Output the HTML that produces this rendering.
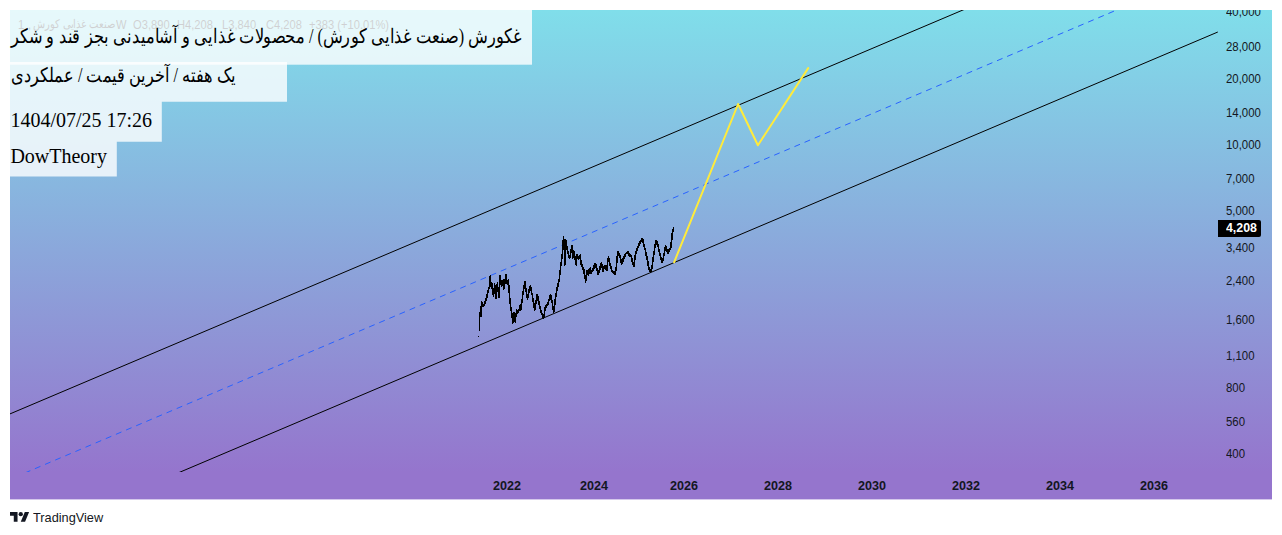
<!DOCTYPE html>
<html lang="en">
<head>
<meta charset="utf-8">
<title>TradingView Chart</title>
<style>
  html, body { margin: 0; padding: 0; background: #ffffff; }
  body { width: 1282px; height: 535px; position: relative; overflow: hidden;
         font-family: "Liberation Sans", sans-serif; color: #000; }
  #bg, #boxes { position: absolute; left: 0; top: 0; width: 1282px; height: 535px; }
  #clip { position: absolute; left: 10px; top: 10px; width: 1262px; height: 489px; overflow: hidden; }
  #clip > #inner { position: absolute; left: -10px; top: -10px; width: 1282px; height: 535px; }
  #lines { position: absolute; left: 0; top: 0; width: 1282px; height: 535px; }
  .legend { position: absolute; left: 0; top: 0; width: 1282px; height: 40px; font-size: 12px; line-height: 14px;
            color: #131722; white-space: pre; direction: ltr; }
  .legend span { position: absolute; top: 17.5px; transform-origin: 0 50%; transform: scaleX(0.93); }
  svg.fa { position: absolute; left: 0; top: 0; width: 1282px; height: 535px; overflow: visible; pointer-events: none; }
  .fap { fill: #000; stroke: #000; stroke-width: 0.4px; }
  .lbl { position: absolute; font-family: "Liberation Serif", serif; font-size: 20px; line-height: 23px;
         white-space: nowrap; color: #000; }
  .ax { position: absolute; left: 1226.2px; font-size: 12px; line-height: 14px; height: 14px;
        color: #131722; white-space: nowrap; transform-origin: 0 50%; transform: scaleX(0.95); }
  .tx { position: absolute; top: 479px; width: 60px; margin-left: -30px; text-align: center;
        font-size: 12px; line-height: 14px; font-weight: bold; color: #131722;
        transform: scaleX(1.05); }
  #last { position: absolute; left: 1218px; top: 220.3px; width: 43.2px; height: 16.6px; border-radius: 0 2px 2px 0;
          background: #000; color: #fff; font-size: 12px; font-weight: bold; line-height: 16.5px; }
  #last span { position: absolute; left: 7.7px; top: 0; transform-origin: 0 50%; transform: scaleX(1.03); }
  #tv { position: absolute; left: 10px; top: 509px; height: 16px; color: #131722; }
  #tv svg { position: absolute; left: 0; top: 3.2px; }
  #tv span { position: absolute; left: 23.3px; top: 0.8px; font-size: 13px; line-height: 16px; transform-origin: 0 50%; transform: scaleX(0.98); }
</style>
</head>
<body>
<svg id="bg" width="1282" height="535" viewBox="0 0 1282 535">
  <defs><linearGradient id="gr" gradientUnits="userSpaceOnUse" x1="0" y1="10" x2="0" y2="472"><stop offset="0" stop-color="#80deea"/><stop offset="1" stop-color="#9575cd"/></linearGradient></defs>
  <rect x="10" y="10" width="1262" height="489.4" fill="url(#gr)"/>
</svg>

<div class="legend" aria-label="صنعت غذایی کورش, 1W">
  <span style="left:18px">1</span><span style="left:28.2px">,</span>
  <svg class="fa" width="1282" height="535" viewBox="0 0 1282 535" role="img" aria-label="صنعت غذایی کورش"><text x="115.3" y="27.9" text-anchor="end" textLength="82.8" lengthAdjust="spacingAndGlyphs" font-family="&quot;Liberation Sans&quot;, sans-serif" font-size="12" fill="#131722">صنعت غذایی کورش</text></svg>
  <span style="left:115.5px">W</span>
  <span style="left:132.5px">O3,890</span>
  <span style="left:177px">H4,208</span>
  <span style="left:222px">L3,840</span>
  <span style="left:265.5px">C4,208</span>
  <span style="left:309px">+383 (+10.01%)</span>
</div>

<svg id="boxes" width="1282" height="535" viewBox="0 0 1282 535">
  <g fill="#ffffff" fill-opacity="0.8">
    <rect x="10" y="10" width="522" height="54.7"/>
    <path d="M10 61.9H287V101.7H161.8V141.8H116.8V176.6H10Z"/>
  </g>
  <g role="img" aria-label="غکورش (صنعت غذایی کورش) / محصولات غذایی و آشامیدنی بجز قند و شکر"><text x="521" y="43" text-anchor="end" textLength="510.3" lengthAdjust="spacingAndGlyphs" font-family="&quot;Liberation Serif&quot;, serif" font-size="20" fill="#000" fill-opacity="1">غکورش (صنعت غذایی کورش) / محصولات غذایی و آشامیدنی بجز قند و شکر</text></g>
  <g role="img" aria-label="یک هفته / آخرین قیمت / عملکردی"><text x="236.2" y="82.3" text-anchor="end" textLength="225.3" lengthAdjust="spacingAndGlyphs" font-family="&quot;Liberation Serif&quot;, serif" font-size="20" fill="#000" fill-opacity="1">یک هفته / آخرین قیمت / عملکردی</text></g>
</svg>
<div class="lbl" style="left:10.4px; top:109.3px;">1404/07/25 17:26</div>
<div class="lbl" style="left:10.4px; top:145.3px;">DowTheory</div>

<svg id="lines" viewBox="0 0 1282 535">
  <defs><clipPath id="cc"><rect x="10" y="10" width="1207.8" height="462"/></clipPath></defs>
  <g clip-path="url(#cc)" fill="none">
    <line x1="-20.0" y1="426.62" x2="992.2" y2="-2.42" stroke="#000" stroke-width="1"/>
    <line x1="151.0" y1="484.42" x2="1247.6" y2="19.38" stroke="#000" stroke-width="1"/>
    <line x1="-3.8" y1="485.12" x2="1144.8" y2="-1.92" stroke="#2962ff" stroke-width="1" stroke-dasharray="6 5" stroke-dashoffset="1.96"/>
    <polyline points="674.1,262.3 738.1,104 757.9,145.3 808.2,68.1" stroke="#ffeb3b" stroke-width="2" stroke-linejoin="round" stroke-linecap="round"/>
    <path id="price" stroke="#000" stroke-width="1" shape-rendering="crispEdges" d="M479.5 311.5V330.8M480.5 305.5V316.7M481.5 301.0V316.9M482.5 302.3V306.5M483.5 303.8V306.9M484.5 301.1V305.7M485.5 297.6V304.0M486.5 294.1V300.6M487.5 289.8V297.6M488.5 286.6V293.1M489.5 276.4V289.4M490.5 275.4V287.2M491.5 281.6V289.1M492.5 283.2V294.9M493.5 288.3V297.4M494.5 282.6V293.7M495.5 284.8V298.6M496.5 284.3V298.7M497.5 281.8V291.9M498.5 287.1V298.2M499.5 275.3V297.8M500.5 274.7V285.1M501.5 280.0V286.5M502.5 279.5V285.7M503.5 279.3V290.1M504.5 279.2V289.3M505.5 274.1V284.2M506.5 274.4V283.8M507.5 279.6V285.0M508.5 279.3V292.6M509.5 285.0V303.5M510.5 298.0V311.2M511.5 306.6V317.5M512.5 312.6V323.5M513.5 311.5V323.1M514.5 312.0V322.2M515.5 312.8V322.6M516.5 309.4V317.0M517.5 309.9V313.5M518.5 309.1V313.4M519.5 305.0V311.4M520.5 304.1V310.5M521.5 298.6V309.8M522.5 290.8V303.4M523.5 285.0V294.9M524.5 281.0V289.2M525.5 281.3V292.1M526.5 287.6V297.6M527.5 293.5V300.3M528.5 289.4V297.8M529.5 285.7V293.4M530.5 285.1V290.9M531.5 286.9V295.3M532.5 292.5V302.0M533.5 298.0V308.3M534.5 303.4V311.2M535.5 299.8V309.9M536.5 294.0V303.6M537.5 293.6V300.8M538.5 296.3V304.9M539.5 301.1V308.5M540.5 305.6V312.9M541.5 309.6V315.0M542.5 313.0V317.5M543.5 313.6V318.5M544.5 307.0V317.9M545.5 305.4V310.8M546.5 304.2V307.9M547.5 301.7V305.7M548.5 298.7V304.6M549.5 295.3V301.3M550.5 293.6V299.6M551.5 295.3V303.1M552.5 300.0V310.0M553.5 306.1V313.1M554.5 299.0V311.5M555.5 293.4V304.7M556.5 287.0V296.7M557.5 282.5V290.6M558.5 278.5V286.6M559.5 269.5V282.4M560.5 261.5V275.1M561.5 253.6V266.3M562.5 240.4V258.6M563.5 235.7V249.8M564.5 239.3V265.5M565.5 239.4V265.2M566.5 239.7V249.6M567.5 245.7V254.2M568.5 250.9V257.8M569.5 254.7V259.3M570.5 249.0V258.2M571.5 245.0V252.5M572.5 245.1V259.2M573.5 250.2V258.4M574.5 251.1V259.5M575.5 255.7V264.8M576.5 254.2V265.7M577.5 253.6V259.1M578.5 255.7V260.4M579.5 254.7V259.3M580.5 253.7V264.5M581.5 260.0V266.7M582.5 264.1V269.8M583.5 266.6V274.0M584.5 269.3V278.8M585.5 275.0V282.6M586.5 269.5V280.5M587.5 270.3V274.9M588.5 268.6V276.1M589.5 267.6V273.6M590.5 267.2V273.9M591.5 269.6V273.8M592.5 268.1V271.5M593.5 264.5V270.5M594.5 262.6V268.9M595.5 262.7V268.4M596.5 264.4V270.9M597.5 268.1V274.7M598.5 269.5V275.1M599.5 266.0V272.5M600.5 262.5V269.6M601.5 261.5V268.2M602.5 263.8V272.3M603.5 265.7V272.0M604.5 264.5V268.8M605.5 265.0V270.1M606.5 265.3V271.4M607.5 257.6V270.5M608.5 256.4V261.8M609.5 257.7V265.6M610.5 262.5V269.1M611.5 265.7V271.9M612.5 269.6V272.8M613.5 270.6V273.7M614.5 271.1V275.0M615.5 266.9V275.3M616.5 256.0V270.9M617.5 250.7V263.1M618.5 251.0V255.6M619.5 252.6V258.3M620.5 254.6V263.3M621.5 258.9V265.1M622.5 258.4V263.9M623.5 256.3V262.4M624.5 253.5V259.1M625.5 252.6V256.8M626.5 251.6V254.3M627.5 251.3V254.1M628.5 250.9V256.0M629.5 253.2V257.1M630.5 254.2V256.9M631.5 254.6V261.7M632.5 257.9V265.3M633.5 261.5V267.0M634.5 255.2V267.2M635.5 251.4V260.2M636.5 248.1V253.8M637.5 245.9V251.1M638.5 242.9V247.9M639.5 241.3V245.8M640.5 240.2V243.9M641.5 237.6V242.3M642.5 237.9V243.1M643.5 238.6V247.1M644.5 243.5V250.3M645.5 247.5V255.8M646.5 252.0V259.9M647.5 256.4V265.8M648.5 261.1V269.8M649.5 267.1V271.8M650.5 268.7V272.7M651.5 265.0V272.0M652.5 256.8V269.4M653.5 250.5V262.3M654.5 243.5V254.7M655.5 239.5V248.4M656.5 239.5V245.0M657.5 241.4V247.0M658.5 244.0V252.4M659.5 248.5V255.8M660.5 252.6V259.5M661.5 257.1V262.6M662.5 257.7V262.9M663.5 252.5V260.6M664.5 247.0V255.7M665.5 244.9V250.9M666.5 245.8V251.7M667.5 249.2V253.7M668.5 249.2V254.4M669.5 248.0V252.3M670.5 242.4V249.9M671.5 233.4V248.1M672.5 228.5V239.8M673.5 227.0V232.3"/>
    <rect x="478" y="336" width="1" height="1" fill="#000"/>
  </g>
</svg>

<div id="clip"><div id="inner">
<div class="ax" style="top:5.1px">40,000</div>
<div class="ax" style="top:40px">28,000</div>
<div class="ax" style="top:72px">20,000</div>
<div class="ax" style="top:106px">14,000</div>
<div class="ax" style="top:138px">10,000</div>
<div class="ax" style="top:172px">7,000</div>
<div class="ax" style="top:204px">5,000</div>
<div class="ax" style="top:241px">3,400</div>
<div class="ax" style="top:274px">2,400</div>
<div class="ax" style="top:313px">1,600</div>
<div class="ax" style="top:349px">1,100</div>
<div class="ax" style="top:381px">800</div>
<div class="ax" style="top:415px">560</div>
<div class="ax" style="top:447px">400</div>
<div id="last"><span>4,208</span></div>

<div class="tx" style="left:507px">2022</div>
<div class="tx" style="left:594px">2024</div>
<div class="tx" style="left:684px">2026</div>
<div class="tx" style="left:778px">2028</div>
<div class="tx" style="left:872px">2030</div>
<div class="tx" style="left:966px">2032</div>
<div class="tx" style="left:1060px">2034</div>
<div class="tx" style="left:1154px">2036</div>
</div></div>

<div id="tv">
  <svg width="19.4" height="9.7" viewBox="0 4 36 18"><path d="M14 22H7V11H0V4h14v18zM28 22h-8l7.5-18h8L28 22z" fill="currentColor"/><circle cx="20" cy="8" r="4" fill="currentColor"/></svg>
  <span>TradingView</span>
</div>
</body>
</html>
